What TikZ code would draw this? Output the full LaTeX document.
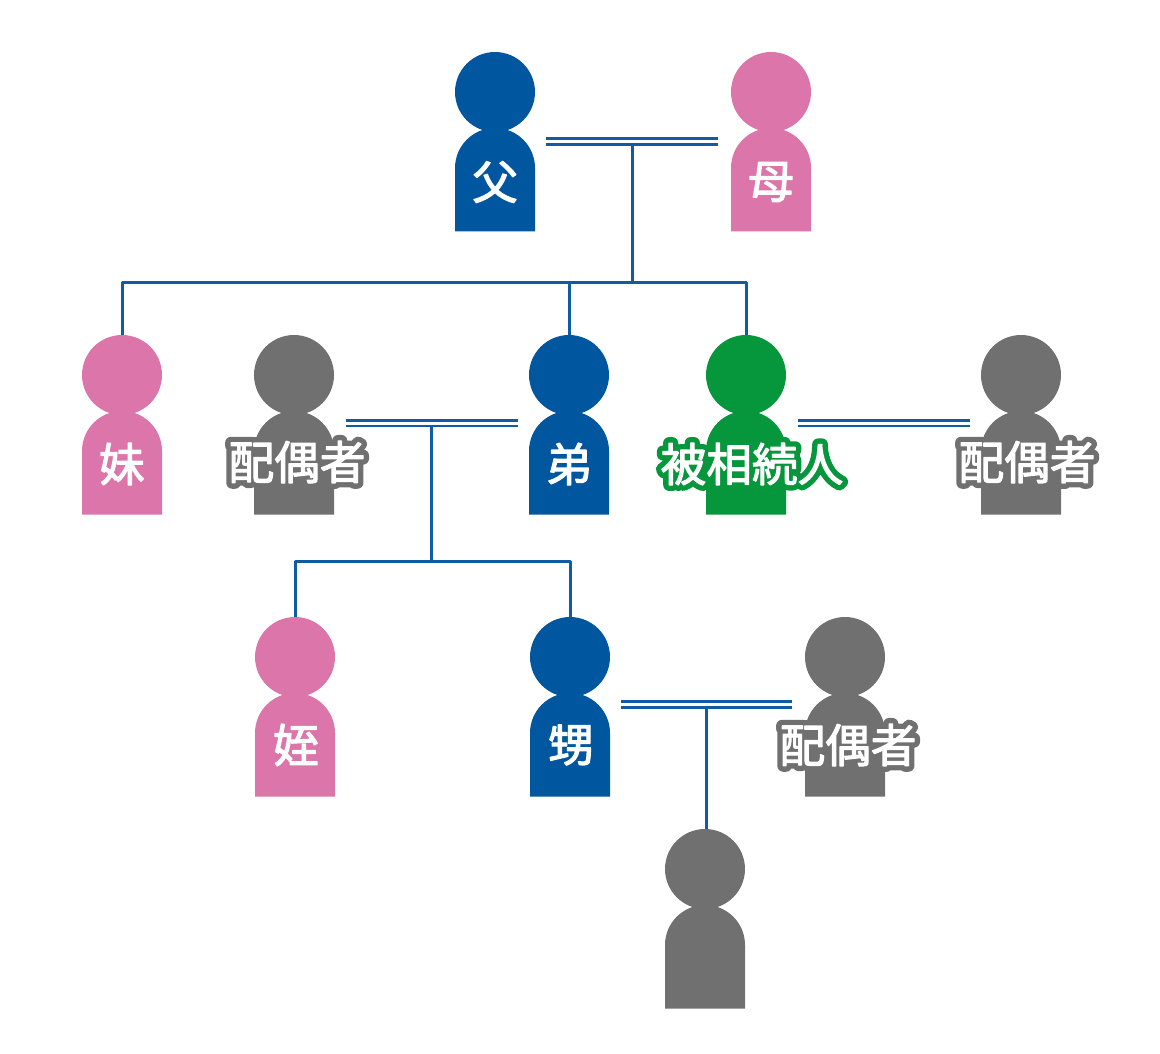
\documentclass[tikz,border=0pt]{standalone}
\usepackage{fontspec}
\usepackage{xcolor}
\setmainfont{Noto Sans CJK JP}
\newfontfamily\thickfont[FakeBold=26]{Noto Sans CJK JP}
\newfontfamily\labelfont[FakeBold=2.5]{Noto Sans CJK JP}
\definecolor{maleblue}{HTML}{00569F}
\definecolor{femalepink}{HTML}{DC75A9}
\definecolor{othergray}{HTML}{707070}
\definecolor{selfgreen}{HTML}{06963C}
\definecolor{linkblue}{HTML}{0F5CA4}
\newcommand{\edged}[2]{\rlap{\thickfont\color{#1}#2}{\labelfont\color{white}#2}}
\tikzset{
    head/.style={circle, inner sep=0pt, minimum size=1.6cm},
    person/.pic={
        \node (-head) [head, pic actions] at (0,0) {};
        \fill [pic actions] (-40,139.5) -- (-40,76) arc (180:360:40) -- (40,139.5) -- cycle;
    },
    plainlabel/.style={text=white, font=\labelfont\fontsize{26}{26}\selectfont, inner sep=0pt},
    edgedlabel/.style={font=\fontsize{26}{26}\selectfont, inner sep=0pt},
    link/.style={draw=linkblue, line width=0.06cm},
    couple/.style={draw=linkblue, line width=0.06cm, double=white, double distance=0.06cm}
}
\begin{document}
\begin{tikzpicture}[x=0.02cm, y=-0.02cm, line join=round]
    \useasboundingbox (0,0) rectangle (1160,1054);

    % people
    \pic (father) [fill=maleblue] at (495,92) {person};
    \pic (mother) [fill=femalepink] at (771,92) {person};
    \pic (sister) [fill=femalepink] at (122,375) {person};
    \pic (spouseb) [fill=othergray] at (294,375) {person};
    \pic (brother) [fill=maleblue] at (569,375) {person};
    \pic (self) [fill=selfgreen] at (746,375) {person};
    \pic (spouses) [fill=othergray] at (1021,375) {person};
    \pic (niece) [fill=femalepink] at (295,657) {person};
    \pic (nephew) [fill=maleblue] at (570,657) {person};
    \pic (spousen) [fill=othergray] at (845,657) {person};
    \pic (child) [fill=othergray] at (705,869) {person};

    % names
    \node (fathername) [plainlabel] at (495,182) {父};
    \node (mothername) [plainlabel] at (771,182) {母};
    \node (sistername) [plainlabel] at (122,464) {妹};
    \node (brothername) [plainlabel] at (569,464) {弟};
    \node (niecename) [plainlabel] at (296,745) {姪};
    \node (nephewname) [plainlabel] at (571,745) {甥};
    \node (spousebname) [edgedlabel] at (297,462) {\edged{othergray}{配偶者}};
    \node (selfname) [edgedlabel] at (752,464) {\edged{selfgreen}{被相続人}};
    \node (spousesname) [edgedlabel] at (1027,462) {\edged{othergray}{配偶者}};
    \node (spousenname) [edgedlabel] at (848,745) {\edged{othergray}{配偶者}};

    % joints
    \coordinate (parentsl) at (546,141.5);
    \coordinate (parentsr) at (718,141.5);
    \coordinate (parentsj) at (632,141.5);
    \coordinate (siblings) at (632,282.5);
    \coordinate (brotherl) at (346,423);
    \coordinate (brotherr) at (518,423);
    \coordinate (brotherj) at (431.5,423);
    \coordinate (cousins) at (431.5,561.5);
    \coordinate (selfl) at (798,423);
    \coordinate (selfr) at (970,423);
    \coordinate (nephewl) at (621,704);
    \coordinate (nephewr) at (792,704);
    \coordinate (nephewj) at (706,704);

    % lines
    \draw [link] (parentsj) -- (siblings);
    \draw [link] (sister-head.north) |- (siblings);
    \draw [link] (self-head.north) |- (siblings);
    \draw [link] (brother-head.north) -- (brother-head.north |- siblings);
    \draw [couple] (parentsl) -- (parentsr);

    \draw [link] (brotherj) -- (cousins);
    \draw [link] (niece-head.north) |- (cousins);
    \draw [link] (nephew-head.north) |- (cousins);
    \draw [couple] (brotherl) -- (brotherr);
    \draw [couple] (selfl) -- (selfr);

    \draw [link] (nephewj) -- (child-head.north -| nephewj);
    \draw [couple] (nephewl) -- (nephewr);
\end{tikzpicture}
\end{document}
